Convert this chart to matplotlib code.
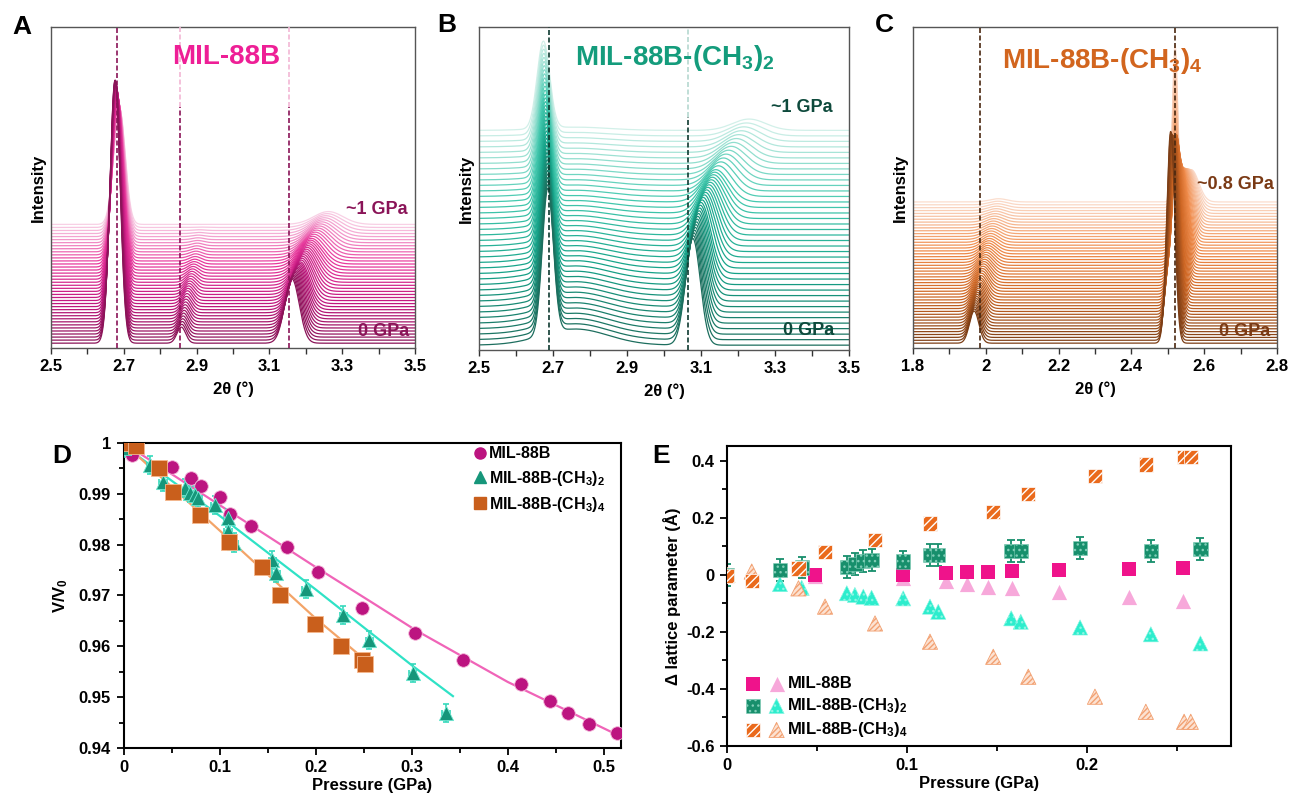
import matplotlib
matplotlib.use('Agg')
import matplotlib.pyplot as plt
import numpy as np
from matplotlib.colors import LinearSegmentedColormap
from matplotlib.legend_handler import HandlerTuple
from matplotlib.lines import Line2D
from matplotlib.ticker import MultipleLocator, FuncFormatter

plt.rcParams['font.family'] = ['Liberation Sans', 'DejaVu Sans']
plt.rcParams['font.weight'] = 'bold'
plt.rcParams['mathtext.default'] = 'regular'
plt.rcParams['hatch.linewidth'] = 1.0

W, H = 1290, 802

# ---- panels A-C: stacked patterns, peak parameters read at pattern index keys ----
a_n = 40
a_top = 0.385
a_keys = [0, 13, 26, 39]
a_peak_pos = [[2.676, 2.679, 2.683, 2.688], [3.162, 3.185, 3.215, 3.262], [2.858, 2.875, 2.895, 2.91]]
a_peak_amp = [[0.82, 0.68, 0.52, 0.36], [0.20, 0.13, 0.08, 0.04], [0.05, 0.04, 0.015, 0.0]]
a_peak_wid = [[0.014, 0.014, 0.015, 0.016], [0.020, 0.025, 0.033, 0.040], [0.012, 0.014, 0.016, 0.016]]
a_ticks = [2.5, 2.7, 2.9, 3.1, 3.3, 3.5]
a_colors = ['#8A1458', '#C0177E', '#E8389C', '#F8D0E5']

b_n = 40
b_top = 0.68
b_keys = [0, 13, 26, 39]
b_peak_pos = [[2.686, 2.683, 2.679, 2.674], [3.078, 3.10, 3.14, 3.23], [2.76, 2.76, 2.76, 2.76]]
b_peak_amp = [[0.45, 0.38, 0.32, 0.27], [0.33, 0.22, 0.10, 0.035], [0.05, 0.04, 0.02, 0.01]]
b_peak_wid = [[0.015, 0.015, 0.016, 0.017], [0.020, 0.026, 0.036, 0.045], [0.09, 0.09, 0.09, 0.09]]
b_ticks = [2.5, 2.7, 2.9, 3.1, 3.3, 3.5]
b_colors = ['#1D6E5E', '#15A288', '#44C9AF', '#D2F0E9']

c_n = 50
c_top = 0.455
c_keys = [0, 16, 33, 49]
c_peak_pos = [[2.508, 2.522, 2.540, 2.565], [1.968, 1.985, 2.010, 2.035], [2.52, 2.52, 2.52, 2.52]]
c_peak_amp = [[0.66, 0.45, 0.25, 0.10], [0.10, 0.06, 0.03, 0.01], [0.0, 0.05, 0.20, 0.48]]
c_peak_wid = [[0.011, 0.013, 0.016, 0.020], [0.013, 0.018, 0.022, 0.025], [0.007, 0.007, 0.007, 0.007]]
c_ticks = [1.8, 2.0, 2.2, 2.4, 2.6, 2.8]
c_colors = ['#7C3E16', '#CF6724', '#F08C4C', '#FBDDCD']

# ---- panel D: V/V0 vs pressure ----
d_mil_p = [0.009, 0.051, 0.070, 0.081, 0.100, 0.111, 0.133, 0.170, 0.203, 0.248,
           0.304, 0.354, 0.414, 0.444, 0.463, 0.485, 0.514]
d_mil_v = [0.9976, 0.9953, 0.9932, 0.9916, 0.9893, 0.9861, 0.9836, 0.9796, 0.9747, 0.9676,
           0.9627, 0.9573, 0.9526, 0.9493, 0.9468, 0.9447, 0.9430]
d_me2_p = [0.0, 0.028, 0.041, 0.064, 0.069, 0.074, 0.078, 0.095, 0.109, 0.109, 0.115,
           0.155, 0.159, 0.190, 0.229, 0.256, 0.301, 0.336]
d_me2_v = [0.9990, 0.9957, 0.9923, 0.9912, 0.9902, 0.9897, 0.9892, 0.9878, 0.9853, 0.9827, 0.9804,
           0.9770, 0.9744, 0.9713, 0.9662, 0.9613, 0.9547, 0.9469]
d_me4_p = [0.0, 0.013, 0.037, 0.052, 0.080, 0.110, 0.144, 0.163, 0.199, 0.226, 0.248, 0.251]
d_me4_v = [1.0, 0.9995, 0.9951, 0.9904, 0.9859, 0.9806, 0.9757, 0.9701, 0.9644, 0.9600, 0.9574, 0.9565]

fit_mil_p = [0, 0.1, 0.2, 0.264, 0.304, 0.4, 0.514]
fit_mil_v = [1.0, 0.9878, 0.9756, 0.9680, 0.9632, 0.9530, 0.9426]
fit_me2_p = [0, 0.1, 0.2, 0.3, 0.343]
fit_me2_v = [0.9995, 0.9857, 0.9712, 0.9563, 0.9502]
fit_me4_p = [0, 0.1, 0.2, 0.257]
fit_me4_v = [1.0, 0.9828, 0.9655, 0.9565]

# ---- panel E: lattice parameter change ----
e_mil_p = [0.0488, 0.0979, 0.1217, 0.1336, 0.1453, 0.1583, 0.1846, 0.2236, 0.2534]
e_mil_sq = [0.0, 0.0, 0.006, 0.009, 0.012, 0.015, 0.0175, 0.02, 0.0234]
e_mil_tr = [-0.005, -0.01, -0.02, -0.032, -0.042, -0.047, -0.058, -0.078, -0.09]
e_me2_p = [0.0, 0.0293, 0.0414, 0.0665, 0.071, 0.0757, 0.0803, 0.0979, 0.1128, 0.1174,
           0.158, 0.1633, 0.1963, 0.2357, 0.2633]
e_me2_sq = [0.0, 0.0175, 0.026, 0.029, 0.039, 0.05, 0.052, 0.047, 0.07, 0.07,
            0.084, 0.084, 0.094, 0.084, 0.091]
e_me2_tr = [0.0, -0.032, -0.045, -0.064, -0.07, -0.076, -0.08, -0.082, -0.111, -0.129,
            -0.152, -0.164, -0.184, -0.208, -0.24]
e_me2_err = 0.038
e_me4_p = [0.0, 0.0136, 0.0396, 0.0544, 0.0822, 0.1128, 0.148, 0.1675, 0.2046, 0.2329, 0.2542, 0.2579]
e_me4_sq = [-0.003, -0.021, 0.023, 0.082, 0.123, 0.181, 0.22, 0.285, 0.347, 0.388, 0.415, 0.415]
e_me4_tr = [0.0, 0.012, -0.047, -0.111, -0.17, -0.234, -0.287, -0.357, -0.427, -0.48, -0.515, -0.515]

labels = ['MIL-88B', 'MIL-88B-(CH$_3$)$_2$', 'MIL-88B-(CH$_3$)$_4$']


def px_axes(fig, x0, y0, x1, y1):
    return fig.add_axes([x0 / W, 1 - y1 / H, (x1 - x0) / W, (y1 - y0) / H])


def draw_stack(ax, x, n, top, keys, pos, amp, wid, colors):
    cmap = LinearSegmentedColormap.from_list('stack', colors)
    bottom = 0.015
    for i in range(n - 1, -1, -1):
        y = np.full_like(x, bottom + (top - bottom) * i / (n - 1))
        for k in range(len(pos)):
            c = np.interp(i, keys, pos[k])
            a = np.interp(i, keys, amp[k])
            w = np.interp(i, keys, wid[k])
            y = y + a * np.exp(-0.5 * ((x - c) / w) ** 2)
        ax.plot(x, y, color=cmap(i / (n - 1)), lw=0.9, zorder=2)


def vline(ax, x, dark, light=None, split=1.0):
    ax.plot([x, x], [0, split], color=dark, ls=(0, (3, 1.5)), lw=1.2, zorder=5)
    if light is not None:
        ax.plot([x, x], [split, 1], color=light, ls=(0, (3, 1.5)), lw=1.2, zorder=5)


def style_xrd(ax, ticks):
    ax.set_xlim(ticks[0], ticks[-1])
    ax.set_ylim(0, 1)
    ax.set_yticks([])
    step = ticks[1] - ticks[0]
    ax.set_xticks(ticks)
    ax.set_xticks(np.arange(ticks[0] + step / 2, ticks[-1], step), minor=True)
    ax.set_xticklabels(['%g' % t for t in ticks])
    ax.tick_params(axis='x', which='both', direction='out', length=4, width=1, colors='#333333',
                   labelsize=12, labelcolor='black', pad=4)
    for s in ax.spines.values():
        s.set_color('#555555')
        s.set_linewidth(1.0)
    ax.set_ylabel('Intensity', fontsize=12, fontweight='bold', labelpad=4)
    ax.set_xlabel('2θ (°)', fontsize=12, fontweight='bold', labelpad=5)


def style_xy(ax):
    ax.tick_params(which='both', direction='out', width=1.3, labelsize=12, pad=4)
    ax.tick_params(which='major', length=5)
    ax.tick_params(which='minor', length=3.5)
    for s in ax.spines.values():
        s.set_color('black')
        s.set_linewidth(1.5)


fig = plt.figure(figsize=(W / 100, H / 100), dpi=100)

# A
axA = px_axes(fig, 51, 27, 415, 348)
xA = np.linspace(2.5, 3.5, 800)
draw_stack(axA, xA, a_n, a_top, a_keys, a_peak_pos, a_peak_amp, a_peak_wid, a_colors)
vline(axA, 2.68, '#8A1458')
vline(axA, 2.855, '#8A1458', '#F2B6D4', 0.75)
vline(axA, 3.155, '#8A1458', '#F2B6D4', 0.75)
style_xrd(axA, a_ticks)
axA.text(0.48, 0.905, 'MIL-88B', transform=axA.transAxes, ha='center', va='center',
         fontsize=20, fontweight='bold', color='#EE1F96', zorder=6)
axA.text(0.895, 0.43, '~1 GPa', transform=axA.transAxes, ha='center', va='center',
         fontsize=13, fontweight='bold', color='#8A1458', zorder=6)
axA.text(0.915, 0.05, '0 GPa', transform=axA.transAxes, ha='center', va='center',
         fontsize=13, fontweight='bold', color='#8A1458', zorder=6)

# B
axB = px_axes(fig, 479, 27, 849, 350)
xB = np.linspace(2.5, 3.5, 800)
draw_stack(axB, xB, b_n, b_top, b_keys, b_peak_pos, b_peak_amp, b_peak_wid, b_colors)
vline(axB, 2.69, '#0E3A30')
vline(axB, 3.065, '#0E3A30', '#B5D8D0', 0.72)
style_xrd(axB, b_ticks)
axB.text(0.53, 0.905, 'MIL-88B-(CH$_3$)$_2$', transform=axB.transAxes, ha='center', va='center',
         fontsize=20, fontweight='bold', color='#149C7C', zorder=6)
axB.text(0.873, 0.75, '~1 GPa', transform=axB.transAxes, ha='center', va='center',
         fontsize=13, fontweight='bold', color='#0E4A3C', zorder=6)
axB.text(0.89, 0.06, '0 GPa', transform=axB.transAxes, ha='center', va='center',
         fontsize=13, fontweight='bold', color='#0E4A3C', zorder=6)

# C
axC = px_axes(fig, 913, 27, 1277, 348)
xC = np.linspace(1.8, 2.8, 800)
draw_stack(axC, xC, c_n, c_top, c_keys, c_peak_pos, c_peak_amp, c_peak_wid, c_colors)
vline(axC, 1.985, '#4A2810')
vline(axC, 2.52, '#4A2810')
style_xrd(axC, c_ticks)
axC.text(0.52, 0.895, 'MIL-88B-(CH$_3$)$_4$', transform=axC.transAxes, ha='center', va='center',
         fontsize=20, fontweight='bold', color='#D2651E', zorder=6)
axC.text(0.885, 0.508, '~0.8 GPa', transform=axC.transAxes, ha='center', va='center',
         fontsize=13, fontweight='bold', color='#7A3A15', zorder=6)
axC.text(0.91, 0.05, '0 GPa', transform=axC.transAxes, ha='center', va='center',
         fontsize=13, fontweight='bold', color='#7A3A15', zorder=6)

# D
axD = px_axes(fig, 123.5, 443, 621, 748)
axD.plot(fit_mil_p, fit_mil_v, color='#F064B8', lw=1.6, zorder=2)
axD.plot(fit_me2_p, fit_me2_v, color='#2FE2C6', lw=1.6, zorder=2)
axD.plot(fit_me4_p, fit_me4_v, color='#F3A468', lw=1.6, zorder=2)
axD.errorbar(d_me2_p, d_me2_v, xerr=0.004, yerr=0.0018, fmt='none', ecolor='#36D9BC',
             elinewidth=1.2, capsize=2.5, capthick=1.2, zorder=3)
axD.scatter(d_mil_p, d_mil_v, s=95, marker='o', color='#BC1480', edgecolors='#F5B8DA',
            linewidths=0.6, zorder=4)
axD.scatter(d_me2_p, d_me2_v, s=105, marker='^', color='#16967A', edgecolors='#6FE8D2',
            linewidths=0.6, zorder=4)
axD.scatter(d_me4_p, d_me4_v, s=120, marker='s', color='#C95F1C', edgecolors='#F6B88E',
            linewidths=0.6, zorder=5)
axD.set_xlim(0, 0.518)
axD.set_ylim(0.94, 1.0)
axD.xaxis.set_major_locator(MultipleLocator(0.1))
axD.xaxis.set_minor_locator(MultipleLocator(0.05))
axD.yaxis.set_major_locator(MultipleLocator(0.01))
axD.yaxis.set_minor_locator(MultipleLocator(0.005))
axD.xaxis.set_major_formatter(FuncFormatter(lambda v, p: '%g' % round(v, 2)))
axD.yaxis.set_major_formatter(FuncFormatter(lambda v, p: '%g' % round(v, 2)))
style_xy(axD)
axD.set_xlabel('Pressure (GPa)', fontsize=12, fontweight='bold', labelpad=2)
axD.set_ylabel('V/V$_0$', fontsize=12, fontweight='bold', labelpad=6)
d_handles = [Line2D([], [], ls='none', marker='o', ms=8, color='#BC1480'),
             Line2D([], [], ls='none', marker='^', ms=8, color='#16967A'),
             Line2D([], [], ls='none', marker='s', ms=8, color='#C95F1C')]
axD.legend(d_handles, labels, loc='upper left', bbox_to_anchor=(0.69, 1.01), frameon=False,
           fontsize=11.5, handlelength=0.8, handletextpad=0.2, labelspacing=0.45, borderaxespad=0)

# E
axE = px_axes(fig, 727.3, 446, 1231, 746)
axE.errorbar(e_me2_p, e_me2_sq, yerr=e_me2_err, fmt='none', ecolor='#178F6C',
             elinewidth=1.3, capsize=3, capthick=1.3, zorder=2)
t1 = axE.scatter(e_mil_p, e_mil_tr, s=120, marker='^', color='#F7A8DA', linewidths=0, zorder=3)
t2 = axE.scatter(e_me2_p, e_me2_tr, s=120, marker='^', facecolor='#2DEDCD', edgecolor='#8CF6E4',
                 hatch='...', linewidths=0.4, zorder=3)
t3 = axE.scatter(e_me4_p, e_me4_tr, s=120, marker='^', facecolor='#FCE2D2', edgecolor='#F2A172',
                 hatch='//////', linewidths=0.6, zorder=3)
s1 = axE.scatter(e_mil_p, e_mil_sq, s=105, marker='s', color='#EF138B', linewidths=0, zorder=4)
s2 = axE.scatter(e_me2_p, e_me2_sq, s=105, marker='s', facecolor='#178F6C', edgecolor='#7FCDB6',
                 hatch='...', linewidths=0.4, zorder=4)
s3 = axE.scatter(e_me4_p, e_me4_sq, s=105, marker='s', facecolor='#EA6A1C', edgecolor='white',
                 hatch='////', linewidths=0.5, zorder=5)
axE.set_xlim(0, 0.2803)
axE.set_ylim(-0.6, 0.4526)
axE.xaxis.set_major_locator(MultipleLocator(0.1))
axE.xaxis.set_minor_locator(MultipleLocator(0.05))
axE.yaxis.set_major_locator(MultipleLocator(0.2))
axE.yaxis.set_minor_locator(MultipleLocator(0.1))
axE.xaxis.set_major_formatter(FuncFormatter(lambda v, p: '%g' % round(v, 2)))
axE.yaxis.set_major_formatter(FuncFormatter(lambda v, p: '%g' % round(v, 2)))
style_xy(axE)
axE.set_xlabel('Pressure (GPa)', fontsize=12, fontweight='bold', labelpad=2)
axE.set_ylabel('Δ lattice parameter (Å)', fontsize=12, fontweight='bold', labelpad=4)
axE.legend([(s1, t1), (s2, t2), (s3, t3)], labels, loc='lower left', bbox_to_anchor=(0.025, 0.0),
           handler_map={tuple: HandlerTuple(ndivide=None, pad=0.6)}, frameon=False,
           fontsize=12, handlelength=2.2, handletextpad=0.25, labelspacing=0.3, borderaxespad=0)

for letter, xp, yp in [('A', 22, 27), ('B', 447, 25), ('C', 884, 25), ('D', 62, 456), ('E', 661, 456)]:
    fig.text(xp / W, 1 - yp / H, letter, ha='center', va='center', fontsize=19, fontweight='bold')

fig.savefig('out.png', dpi=100)
